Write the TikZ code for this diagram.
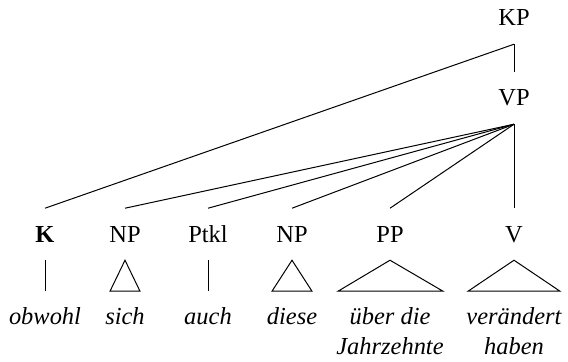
\documentclass[tikz,border=0pt]{standalone}
\usepackage{fontspec}
\setmainfont{Liberation Serif}
\usetikzlibrary{positioning}

\begin{document}
\begin{tikzpicture}[
    x=0.45pt,
    y=-0.45pt,
    font=\fontsize{11}{13.5}\selectfont,
    cat/.style={
        anchor=base,
        inner xsep=0pt,
        inner ysep=8pt,
        text height=7pt,
        text depth=0pt
    },
    word/.style={
        anchor=base,
        align=center,
        font=\fontsize{11}{13.5}\selectfont\itshape,
        inner xsep=0pt,
        inner ysep=6.85pt,
        text height=8pt
    },
    branch/.style={
        line width=0.45pt
    },
    roof/.style={
        line width=0.45pt,
        line join=miter
    }
]
\useasboundingbox (0,0) rectangle (568,361);

% Upper nodes
\node[cat] (KP) at (514,26) {KP};
\node[cat] (VP) at (514,106) {VP};

% Category row
\node[cat] (K)    at (45,242)  {\textbf{K}};
\node[cat] (NPa)  at (125,242) {NP};
\node[cat] (Ptkl) at (208,242) {Ptkl};
\node[cat] (NPb)  at (292,242) {NP};
\node[cat] (PP)   at (390,242) {PP};
\node[cat] (V)    at (514,242) {V};

% Word row (two-line nodes sit on their last line)
\node[word] (obwohl) at (45,324)  {obwohl};
\node[word] (sich)   at (125,324) {sich};
\node[word] (auch)   at (208,324) {auch};
\node[word] (diese)  at (292,324) {diese};
\node[word] (ueber)  at (390,354) {über die\\Jahrzehnte};
\node[word] (veraendert) at (514,354) {verändert\\haben};

% Branches
\draw[branch] (KP.south) -- (VP.north);
\draw[branch] (KP.south) -- (K.north);
\foreach \d in {NPa,Ptkl,NPb,PP,V}
    \draw[branch] (VP.south) -- (\d.north);

% Terminal lines and roofs
\draw[branch] (K.south) -- (obwohl.north);
\draw[branch] (Ptkl.south) -- (auch.north);
\draw[roof] (NPa.south) -- ++(-15,31) -- ++(30,0) -- cycle;
\draw[roof] (NPb.south) -- ++(-20,31) -- ++(40,0) -- cycle;
\draw[roof] (PP.south) -- ++(-52,31) -- ++(105,0) -- cycle;
\draw[roof] (V.south) -- ++(-46,31) -- ++(92,0) -- cycle;

\end{tikzpicture}
\end{document}
